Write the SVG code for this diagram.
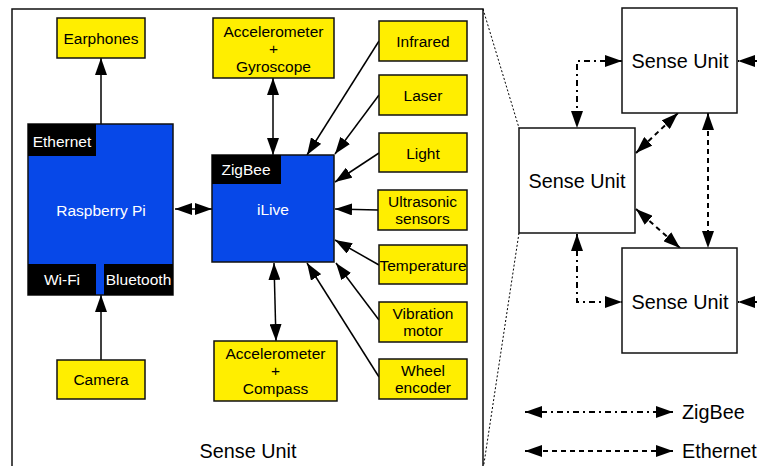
<svg xmlns="http://www.w3.org/2000/svg" width="761" height="466" viewBox="0 0 761 466">
<defs>
<marker id="ah" markerUnits="userSpaceOnUse" markerWidth="18" markerHeight="12" refX="17" refY="6" orient="auto-start-reverse" viewBox="0 0 18 12">
<path d="M0,0 L17,6 L0,12 z" fill="#000"/>
</marker>
<style>
.t{font-family:"Liberation Sans",Arial,sans-serif;font-size:15.5px;fill:#000;text-anchor:middle}
.w{fill:#fff}
.big{font-family:"Liberation Sans",Arial,sans-serif;font-size:19.8px;fill:#000;text-anchor:middle}
.y{fill:#ffee00;stroke:#111;stroke-width:1.5}
.b{fill:#0748e8;stroke:#111;stroke-width:1.5}
.k{fill:#000}
.su{fill:#fff;stroke:#111;stroke-width:1.5}
.c{stroke:#000;stroke-width:1.5;fill:none}
.a2{marker-start:url(#ah);marker-end:url(#ah)}
.a1{marker-end:url(#ah)}
.zb{stroke:#000;stroke-width:2;fill:none;stroke-dasharray:6 4 2 4}
.et{stroke:#000;stroke-width:2;fill:none;stroke-dasharray:5 4}
.dot{stroke:#000;stroke-width:1;fill:none;stroke-dasharray:2 2}
</style>
</defs>
<rect x="12" y="9" width="471" height="470" fill="none" stroke="#111" stroke-width="1.5"/>
<text class="big" x="248" y="458">Sense Unit</text>

<g id="connectors">
<line class="c a1" x1="101" y1="124" x2="101" y2="58"/>
<line class="c a1" x1="101" y1="360" x2="101" y2="295"/>
<line class="c a2" x1="175" y1="209" x2="212" y2="209"/>
<line class="c a2" x1="273" y1="78" x2="273" y2="155"/>
<line class="c a2" x1="274" y1="263" x2="276" y2="341"/>
<line class="c a1" x1="379" y1="41" x2="307" y2="155"/>
<line class="c a1" x1="379" y1="95" x2="335" y2="154"/>
<line class="c a1" x1="379" y1="153" x2="335" y2="182"/>
<line class="c a1" x1="378" y1="210" x2="335" y2="209"/>
<line class="c a1" x1="379" y1="265" x2="335" y2="240"/>
<line class="c a1" x1="379" y1="320" x2="336" y2="263"/>
<line class="c a1" x1="379" y1="377" x2="307" y2="263"/>
<line class="dot" x1="483" y1="9" x2="519" y2="128"/>
<line class="dot" x1="519" y1="233" x2="483" y2="470"/>
<path class="zb a2" d="M622,61 H577 V128"/>
<path class="zb a2" d="M577,234 V302 H622"/>
<line class="et a2" x1="678" y1="113" x2="636" y2="153"/>
<line class="et a2" x1="636" y1="209" x2="680" y2="248"/>
<line class="et a2" x1="708" y1="113" x2="708" y2="248"/>
<line class="et a1" x1="775" y1="61" x2="738" y2="61"/>
<line class="et a1" x1="775" y1="302" x2="738" y2="302"/>
<line class="zb a2" x1="525" y1="412" x2="673" y2="412"/>
<line class="et a2" x1="525" y1="451" x2="673" y2="451"/>
</g>

<g id="earphones"><rect class="y" x="57" y="18" width="88" height="40"/><text class="t" x="101" y="44">Earphones</text></g>
<g id="camera"><rect class="y" x="57" y="360" width="88" height="39"/><text class="t" x="101" y="385">Camera</text></g>
<g id="raspberry-pi">
<rect class="b" x="28" y="124" width="145" height="171"/>
<rect class="k" x="28" y="124" width="68" height="32"/>
<rect class="k" x="28" y="264" width="68" height="31"/>
<rect class="k" x="104" y="264" width="69" height="31"/>
<text class="t w" x="62" y="146.5">Ethernet</text>
<text class="t w" x="101" y="215.5">Raspberry Pi</text>
<text class="t w" x="62" y="285">Wi-Fi</text>
<text class="t w" x="138.5" y="285">Bluetooth</text>
</g>
<g id="ilive">
<rect class="b" x="212" y="155" width="122" height="107"/>
<rect class="k" x="212" y="155" width="69" height="29"/>
<text class="t w" x="246" y="175">ZigBee</text>
<text class="t w" x="273" y="215">iLive</text>
</g>
<g id="accel-gyro"><rect class="y" x="213" y="18" width="121" height="60"/>
<text class="t" x="273.5" y="36.5">Accelerometer</text><text class="t" x="273.5" y="54">+</text><text class="t" x="273.5" y="71.5">Gyroscope</text></g>
<g id="accel-compass"><rect class="y" x="214" y="341" width="123" height="60"/>
<text class="t" x="275.5" y="358.5">Accelerometer</text><text class="t" x="275.5" y="376">+</text><text class="t" x="275.5" y="393.5">Compass</text></g>
<g id="infrared"><rect class="y" x="379" y="21" width="88" height="40"/><text class="t" x="423" y="47">Infrared</text></g>
<g id="laser"><rect class="y" x="379" y="75" width="88" height="40"/><text class="t" x="423" y="101">Laser</text></g>
<g id="light"><rect class="y" x="379" y="133" width="88" height="39"/><text class="t" x="423" y="158.5">Light</text></g>
<g id="ultrasonic"><rect class="y" x="378" y="190" width="89" height="40"/><text class="t" x="422.5" y="206.5">Ultrasonic</text><text class="t" x="422.5" y="224">sensors</text></g>
<g id="temperature"><rect class="y" x="379" y="245" width="88" height="39"/><text class="t" x="423" y="270.5">Temperature</text></g>
<g id="vibration"><rect class="y" x="379" y="302" width="88" height="40"/><text class="t" x="423" y="318.5">Vibration</text><text class="t" x="423" y="336">motor</text></g>
<g id="wheel"><rect class="y" x="379" y="359" width="88" height="40"/><text class="t" x="423" y="375.5">Wheel</text><text class="t" x="423" y="393">encoder</text></g>

<g id="su-top"><rect class="su" x="622" y="8" width="115" height="105"/><text class="big" x="680" y="68">Sense Unit</text></g>
<g id="su-mid"><rect class="su" x="519" y="128" width="116" height="105"/><text class="big" x="577" y="188">Sense Unit</text></g>
<g id="su-bot"><rect class="su" x="622" y="248" width="115" height="105"/><text class="big" x="680" y="309">Sense Unit</text></g>

<g id="legend">
<text class="big" x="682" y="419" style="text-anchor:start">ZigBee</text>
<text class="big" x="682" y="458" style="text-anchor:start">Ethernet</text>
</g>
</svg>
